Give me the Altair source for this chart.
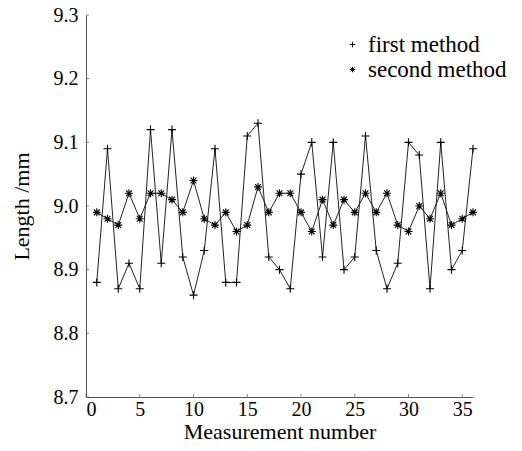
import altair as alt
import pandas as pd

measurement = list(range(1, 37))
first_method = [8.88, 9.09, 8.87, 8.91, 8.87, 9.12, 8.91, 9.12, 8.92, 8.86,
                8.93, 9.09, 8.88, 8.88, 9.11, 9.13, 8.92, 8.90, 8.87, 9.05,
                9.10, 8.92, 9.10, 8.90, 8.92, 9.11, 8.93, 8.87, 8.91, 9.10,
                9.08, 8.87, 9.10, 8.90, 8.93, 9.09]
second_method = [8.99, 8.98, 8.97, 9.02, 8.98, 9.02, 9.02, 9.01, 8.99, 9.04,
                 8.98, 8.97, 8.99, 8.96, 8.97, 9.03, 8.99, 9.02, 9.02, 8.99,
                 8.96, 9.01, 8.97, 9.01, 8.99, 9.02, 8.99, 9.02, 8.97, 8.96,
                 9.00, 8.98, 9.02, 8.97, 8.98, 8.99]
series_names = ["first method", "second method"]
x_ticks = [0, 5, 10, 15, 20, 25, 30, 35]
y_ticks = [8.7, 8.8, 8.9, 9.0, 9.1, 9.2, 9.3]

rows = []
for i, n in enumerate(measurement):
    rows.append({"n": n, "value": first_method[i], "method": series_names[0]})
    rows.append({"n": n, "value": second_method[i], "method": series_names[1]})
df = pd.DataFrame(rows)

PLUS = "M-1,0H1M0,-1V1"
STAR = "M-1,0H1M0,-1V1M-0.72,-0.72L0.72,0.72M-0.72,0.72L0.72,-0.72"
FONT = "Liberation Serif"
W, H = 387, 382

xs = alt.Scale(domain=[0, 36], nice=False)
ys = alt.Scale(domain=[8.7, 9.3], nice=False)

x_enc = alt.X("n:Q", scale=xs, axis=alt.Axis(values=x_ticks, title="Measurement number",
                                             labelPadding=2, titleBaseline="bottom", titleY=46))
y_enc = alt.Y("value:Q", scale=ys, axis=alt.Axis(values=y_ticks, format=".1f", title="Length /mm",
                                                 labelPadding=8, titlePadding=20))

lines = alt.Chart(df).mark_line(color="#222222", strokeWidth=1).encode(
    x=x_enc, y=y_enc, detail="method:N", order="n:Q"
)

points = alt.Chart(df).mark_point(filled=False, color="black", strokeWidth=1.1, size=64, opacity=1).encode(
    x="n:Q", y="value:Q",
    shape=alt.Shape("method:N", scale=alt.Scale(domain=series_names, range=[PLUS, STAR]),
                    legend=alt.Legend(title=None, orient="none", legendX=255, legendY=18,
                                      symbolSize=30, symbolStrokeColor="black", symbolStrokeWidth=1,
                                      symbolFillColor="transparent",
                                      labelFont=FONT, labelFontSize=23, labelColor="black",
                                      labelOffset=4, rowPadding=1, padding=0))
)

ydf = pd.DataFrame({"t": y_ticks})
xdf = pd.DataFrame({"t": x_ticks})
ytick_marks = alt.Chart(ydf).mark_tick(color="#555555", thickness=1, size=3).encode(
    y=alt.Y("t:Q", scale=ys), x=alt.value(1.5)
)
xtick_marks = alt.Chart(xdf).mark_tick(color="#555555", thickness=1, size=3).encode(
    x=alt.X("t:Q", scale=xs), y=alt.value(H - 1.5)
)

chart = alt.layer(lines, points, ytick_marks, xtick_marks).properties(
    width=W, height=H,
    autosize=alt.AutoSizeParams(type="none"),
    padding={"left": 78, "top": 7, "right": 41, "bottom": 46}
).configure_view(stroke=None).configure_axis(
    grid=False, ticks=False, domainColor="#555555", domainWidth=1,
    labelFont=FONT, labelFontSize=20, labelColor="black",
    titleFont=FONT, titleFontSize=22, titleColor="black", titleFontWeight="normal"
)

chart.save("out.html", embed_options={"renderer": "svg", "actions": False})
